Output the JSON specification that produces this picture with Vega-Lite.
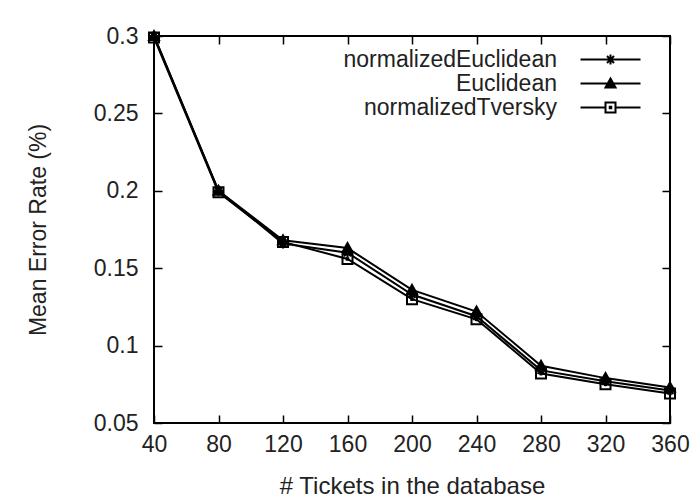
{
  "$schema": "https://vega.github.io/schema/vega-lite/v6.json",
  "width": 516,
  "height": 387,
  "autosize": {"type": "none"},
  "padding": {"left": 154, "top": 36, "right": 22, "bottom": 77},
  "background": "white",
  "datasets": {
    "rates": [
      {"n": 40, "series": "normalizedEuclidean", "rate": 0.3},
      {"n": 80, "series": "normalizedEuclidean", "rate": 0.2},
      {"n": 120, "series": "normalizedEuclidean", "rate": 0.166},
      {"n": 160, "series": "normalizedEuclidean", "rate": 0.16},
      {"n": 200, "series": "normalizedEuclidean", "rate": 0.133},
      {"n": 240, "series": "normalizedEuclidean", "rate": 0.119},
      {"n": 280, "series": "normalizedEuclidean", "rate": 0.084},
      {"n": 320, "series": "normalizedEuclidean", "rate": 0.077},
      {"n": 360, "series": "normalizedEuclidean", "rate": 0.071},
      {"n": 40, "series": "Euclidean", "rate": 0.3},
      {"n": 80, "series": "Euclidean", "rate": 0.2},
      {"n": 120, "series": "Euclidean", "rate": 0.168},
      {"n": 160, "series": "Euclidean", "rate": 0.163},
      {"n": 200, "series": "Euclidean", "rate": 0.136},
      {"n": 240, "series": "Euclidean", "rate": 0.122},
      {"n": 280, "series": "Euclidean", "rate": 0.087},
      {"n": 320, "series": "Euclidean", "rate": 0.079},
      {"n": 360, "series": "Euclidean", "rate": 0.073},
      {"n": 40, "series": "normalizedTversky", "rate": 0.299},
      {"n": 80, "series": "normalizedTversky", "rate": 0.199},
      {"n": 120, "series": "normalizedTversky", "rate": 0.167},
      {"n": 160, "series": "normalizedTversky", "rate": 0.156},
      {"n": 200, "series": "normalizedTversky", "rate": 0.13},
      {"n": 240, "series": "normalizedTversky", "rate": 0.117},
      {"n": 280, "series": "normalizedTversky", "rate": 0.082},
      {"n": 320, "series": "normalizedTversky", "rate": 0.075},
      {"n": 360, "series": "normalizedTversky", "rate": 0.069}
    ]
  },
  "data": {"name": "rates"},
  "layer": [
    {
      "mark": {"type": "line", "color": "black", "strokeWidth": 2},
      "encoding": {
        "x": {"field": "n", "type": "quantitative", "scale": {"domain": [40, 360], "nice": false, "zero": false},
              "axis": {"values": [40, 80, 120, 160, 200, 240, 280, 320, 360], "title": "# Tickets in the database", "labelPadding": 10, "titlePadding": 18, "titleFontSize": 24, "labelFlush": false,
                       "grid": true, "gridColor": "#000000", "gridOpacity": 1, "gridWidth": 1.5, "gridDash": [8, 371, 8, 100]}},
        "y": {"field": "rate", "type": "quantitative", "scale": {"domain": [0.05, 0.3], "nice": false, "zero": false},
              "axis": {"values": [0.05, 0.1, 0.15, 0.2, 0.25, 0.3], "format": "~g", "title": "Mean Error Rate (%)", "labelPadding": 16, "titlePadding": 43, "labelFlush": false,
                       "grid": true, "gridColor": "#000000", "gridOpacity": 1, "gridWidth": 1.5, "gridDash": [8, 500, 8, 100]}},
        "detail": {"field": "series"}
      }
    },
    {
      "mark": {"type": "point", "stroke": "black", "strokeWidth": 2, "size": 100, "opacity": 1},
      "encoding": {
        "x": {"field": "n", "type": "quantitative"},
        "y": {"field": "rate", "type": "quantitative"},
        "shape": {
          "field": "series", "type": "nominal",
          "scale": {"domain": ["normalizedEuclidean", "Euclidean", "normalizedTversky"],
                    "range": ["M-1,0L1,0M0,-1L0,1M-0.7,-0.7L0.7,0.7M-0.7,0.7L0.7,-0.7", "M0,-1L1,0.8L-1,0.8Z", "M-1,-1L1,-1L1,1L-1,1ZM-0.15,-0.15L0.15,-0.15L0.15,0.15L-0.15,0.15Z"]},
          "legend": null
        },
        "fill": {
          "field": "series", "type": "nominal",
          "scale": {"domain": ["normalizedEuclidean", "Euclidean", "normalizedTversky"], "range": ["black", "black", "transparent"]},
          "legend": null
        }
      }
    },
    {
      "transform": [{"filter": "datum.n < 0"}],
      "mark": {"type": "point", "stroke": "black", "strokeWidth": 2, "size": 100, "opacity": 1},
      "encoding": {
        "x": {"field": "n", "type": "quantitative"},
        "y": {"field": "rate", "type": "quantitative"},
        "shape": {
          "field": "series", "type": "nominal",
          "scale": {"domain": ["normalizedEuclidean", "Euclidean", "normalizedTversky"],
                    "range": ["M-6,0L6,0M0,-1L0,1M-0.7,-0.7L0.7,0.7M-0.7,0.7L0.7,-0.7", "M-6,0L6,0M0,-1L1,0.8L-1,0.8Z", "M-6,0L-1,0M1,0L6,0M-1,-1L1,-1L1,1L-1,1ZM-0.15,-0.15L0.15,-0.15L0.15,0.15L-0.15,0.15Z"]},
          "legend": {
            "title": null,
            "orient": "none",
            "legendX": 445,
            "legendY": 12,
            "padding": 0,
            "labelAlign": "right",
            "labelOffset": -65,
            "labelLimit": 400,
            "labelFont": "Liberation Sans",
            "labelFontSize": 23,
            "labelColor": "#222",
            "rowPadding": -2,
            "symbolSize": 100,
            "symbolStrokeWidth": 2
          }
        },
        "fill": {
          "field": "series", "type": "nominal",
          "scale": {"domain": ["normalizedEuclidean", "Euclidean", "normalizedTversky"], "range": ["black", "black", "transparent"]},
          "legend": {
            "title": null,
            "orient": "none",
            "legendX": 445,
            "legendY": 12,
            "padding": 0,
            "labelAlign": "right",
            "labelOffset": -65,
            "labelLimit": 400,
            "labelFont": "Liberation Sans",
            "labelFontSize": 23,
            "labelColor": "#222",
            "rowPadding": -2,
            "symbolSize": 100,
            "symbolStrokeWidth": 2
          }
        }
      }
    }
  ],
  "resolve": {
    "scale": {"shape": "independent", "fill": "independent"}
  },
  "config": {
    "view": {"stroke": "black", "strokeWidth": 2},
    "axis": {
      "domain": false,
      "ticks": false,
      "labelFont": "Liberation Sans",
      "labelFontSize": 23,
      "labelColor": "#222",
      "titleFont": "Liberation Sans",
      "titleFontSize": 23,
      "titleFontWeight": "normal",
      "titleColor": "#222"
    }
  }
}
